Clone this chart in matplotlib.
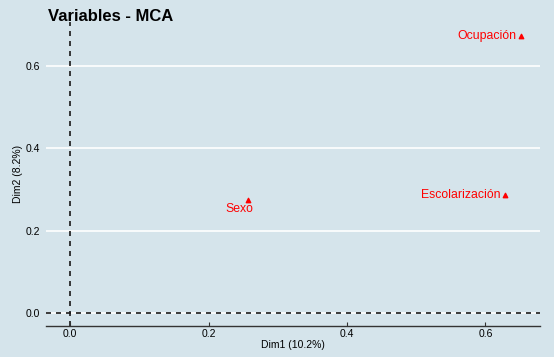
import matplotlib
matplotlib.use("Agg")
import matplotlib.pyplot as plt

plt.rcParams['font.family'] = ['Liberation Sans', 'DejaVu Sans']

variables = ["Ocupación", "Escolarización", "Sexo"]
dim1 = [0.651, 0.628, 0.257]
dim2 = [0.673, 0.287, 0.275]
xticks = [0.0, 0.2, 0.4, 0.6]
yticks = [0.0, 0.2, 0.4, 0.6]

bg = "#d5e4eb"
fig = plt.figure(figsize=(5.54, 3.57), dpi=100, facecolor=bg)
ax = fig.add_axes([0.083, 0.087, 0.892, 0.851], facecolor=bg)

ax.set_xlim(-0.035, 0.679)
ax.set_ylim(-0.032, 0.707)

for y in yticks:
    ax.axhline(y, color="white", lw=1.2, zorder=0)
ax.axhline(0, color="#1a1a1a", lw=1.2, ls=(0, (3, 3)), zorder=1)
ax.axvline(0, color="#1a1a1a", lw=1.2, ls=(0, (3, 3)), zorder=1)

ax.scatter(dim1, dim2, marker="^", color="#ff0000", s=10, zorder=3)
offsets = {"Ocupación": (-3, 0, "right", "center"),
           "Escolarización": (-3, 0, "right", "center"),
           "Sexo": (-6, -6.5, "center", "center")}
for name, x, y in zip(variables, dim1, dim2):
    dx, dy, ha, va = offsets[name]
    ax.annotate(name, (x, y), xytext=(dx, dy), textcoords="offset points",
                ha=ha, va=va, color="#ff0000", fontsize=8.8)

for s in ["top", "right", "left"]:
    ax.spines[s].set_visible(False)
ax.spines["bottom"].set_color("#333333")
ax.spines["bottom"].set_linewidth(1.0)

ax.set_xticks(xticks)
ax.set_xticklabels([f"{v:.1f}" for v in xticks])
ax.set_yticks(yticks)
ax.set_yticklabels([f"{v:.1f}" for v in yticks])
ax.tick_params(axis="x", direction="in", length=3, color="#333333", labelsize=7.5, pad=2)
ax.tick_params(axis="y", length=0, labelsize=7.5, pad=4)

ax.set_xlabel("Dim1 (10.2%)", fontsize=7.5, labelpad=1)
ax.set_ylabel("Dim2 (8.2%)", fontsize=7.5, labelpad=2)

fig.text(0.087, 0.955, "Variables - MCA", fontsize=12, fontweight="bold", ha="left", va="center")

fig.savefig("out.png", dpi=100, facecolor=bg)
